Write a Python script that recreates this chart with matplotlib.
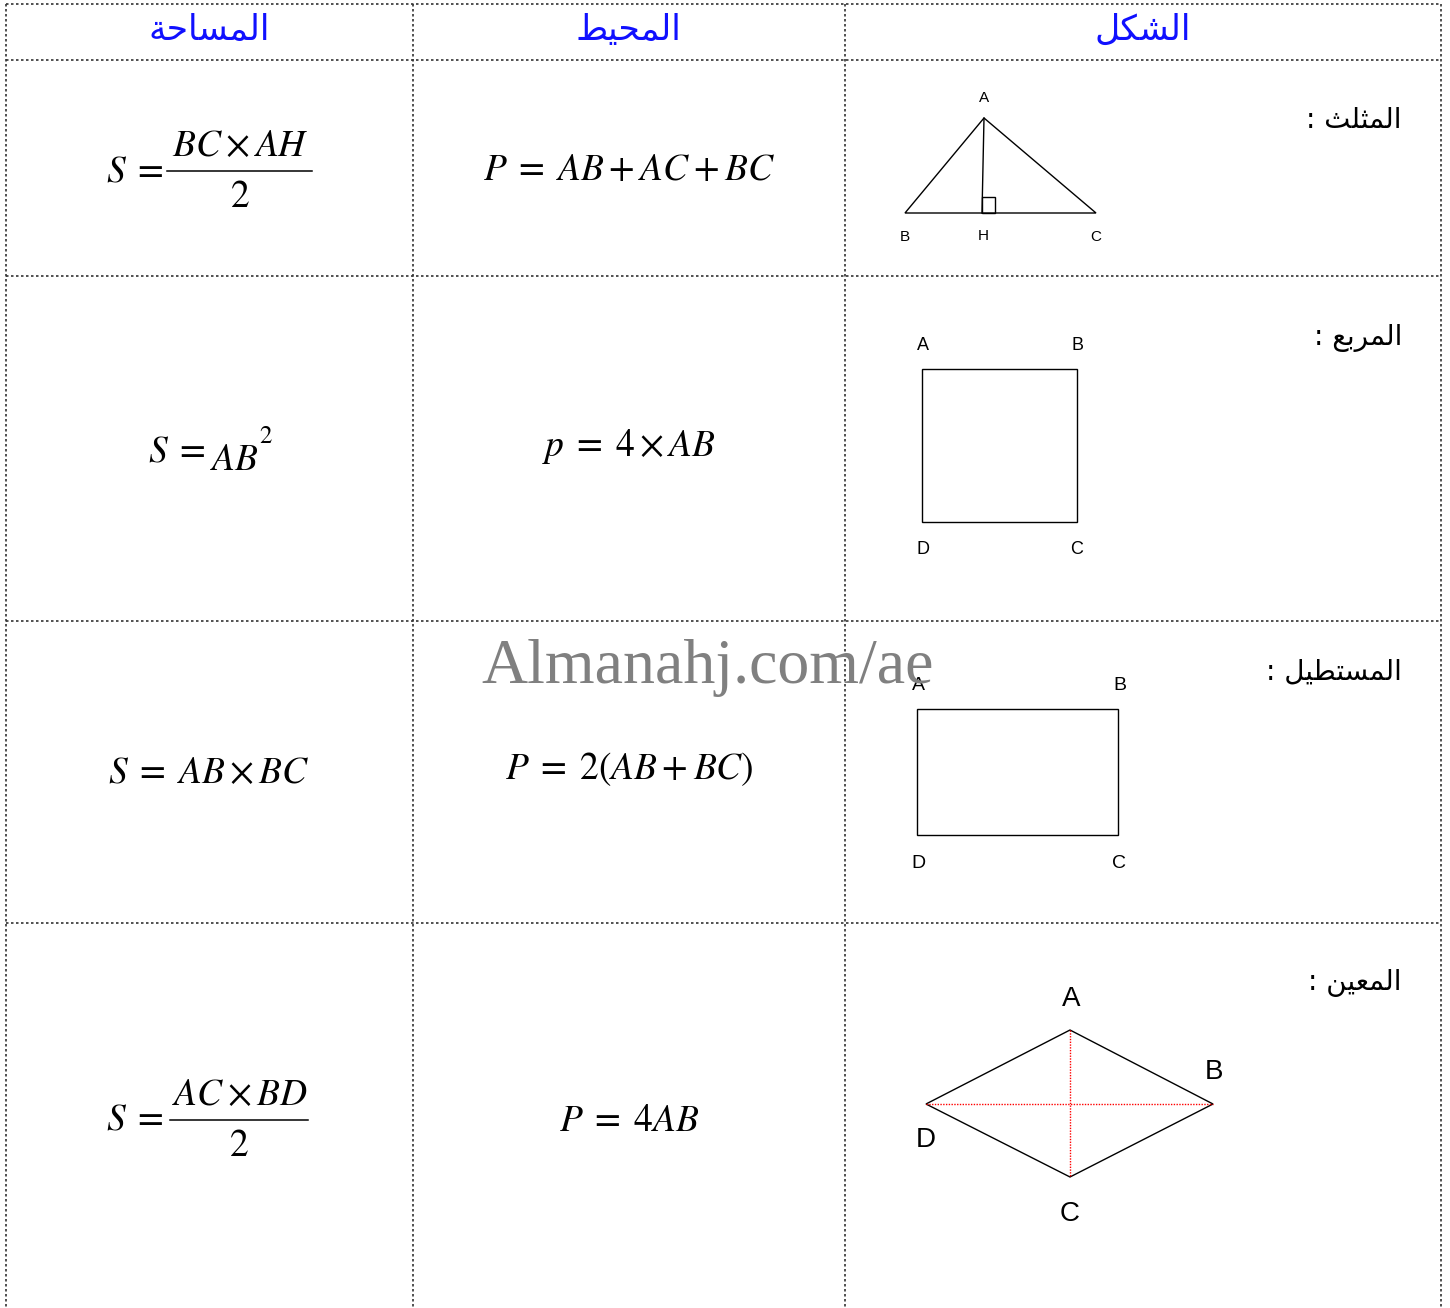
import matplotlib
matplotlib.use('Agg')
import matplotlib.pyplot as plt
from matplotlib.patches import Polygon, Rectangle

plt.rcParams['mathtext.fontset'] = 'stix'

# table layout (pixel grid of the original sheet)
col_edges = [6, 413, 845, 1441]
row_edges = [4, 60, 276, 621, 923]

headers = ['المساحة', 'المحيط', 'الشكل']
shape_names = ['المثلث :', 'المربع :', 'المستطيل :', 'المعين :']

# area formulas: left side, numerator, denominator (None = no fraction)
area_lhs = [r'$S\;=$', r'$S\;=$', r'$S\;=\;AB\times BC$', r'$S\;=$']
area_num = [r'$BC\times AH$', None, None, r'$AC\times BD$']
area_den = [r'$2$', None, None, r'$2$']
square_area = (r'$AB$', r'$2$')
perim_formulas = [r'$P\;=\;AB+AC+BC$', r'$p\;=\;4\times AB$',
                  r'$P\;=\;2(AB+BC)$', r'$P\;=\;4AB$']

# figure vertices
tri_pts = {'A': (984, 118), 'B': (905, 213), 'C': (1096, 213), 'H': (982, 213)}
square_pts = {'A': (922, 369), 'B': (1077, 369), 'C': (1077, 522), 'D': (922, 522)}
rect_pts = {'A': (917, 709), 'B': (1118, 709), 'C': (1118, 835), 'D': (917, 835)}
rhombus_pts = {'A': (1070, 1030), 'B': (1213, 1104), 'C': (1070, 1177), 'D': (926, 1104)}

# arabic presentation forms: isolated, final, initial, medial
FORMS = {
    'ا': ('\uFE8D', '\uFE8E', None, None),
    'ل': ('\uFEDD', '\uFEDE', '\uFEDF', '\uFEE0'),
    'م': ('\uFEE1', '\uFEE2', '\uFEE3', '\uFEE4'),
    'س': ('\uFEB1', '\uFEB2', '\uFEB3', '\uFEB4'),
    'ح': ('\uFEA1', '\uFEA2', '\uFEA3', '\uFEA4'),
    'ة': ('\uFE93', '\uFE94', None, None),
    'ي': ('\uFEF1', '\uFEF2', '\uFEF3', '\uFEF4'),
    'ط': ('\uFEC1', '\uFEC2', '\uFEC3', '\uFEC4'),
    'ش': ('\uFEB5', '\uFEB6', '\uFEB7', '\uFEB8'),
    'ك': ('\uFED9', '\uFEDA', '\uFEDB', '\uFEDC'),
    'ث': ('\uFE99', '\uFE9A', '\uFE9B', '\uFE9C'),
    'ر': ('\uFEAD', '\uFEAE', None, None),
    'ب': ('\uFE8F', '\uFE90', '\uFE91', '\uFE92'),
    'ع': ('\uFEC9', '\uFECA', '\uFECB', '\uFECC'),
    'ت': ('\uFE95', '\uFE96', '\uFE97', '\uFE98'),
    'ن': ('\uFEE5', '\uFEE6', '\uFEE7', '\uFEE8'),
}


def joins_left(ch):
    return ch in FORMS and FORMS[ch][2] is not None


def shape(text):
    # pick the joined form of each letter, then reverse for left-to-right drawing
    out = []
    for i, ch in enumerate(text):
        if ch not in FORMS:
            out.append(ch)
            continue
        prev = text[i - 1] if i > 0 else ''
        nxt = text[i + 1] if i + 1 < len(text) else ''
        p = joins_left(prev)
        n = joins_left(ch) and nxt in FORMS
        iso, fin, ini, med = FORMS[ch]
        if p and n:
            out.append(med)
        elif p:
            out.append(fin)
        elif n:
            out.append(ini)
        else:
            out.append(iso)
    return ''.join(reversed(out))


fig = plt.figure(figsize=(14.5, 13.08), dpi=100)
ax = fig.add_axes([0, 0, 1, 1])
ax.set_xlim(0, 1450)
ax.set_ylim(1308, 0)
ax.axis('off')

line_kw = dict(color='#333333', lw=1.2, ls=(0, (1.5, 1.5)))
for x in col_edges:
    ax.plot([x, x], [row_edges[0], 1308], **line_kw)
for y in row_edges:
    ax.plot([col_edges[0], col_edges[-1]], [y, y], **line_kw)

# headers
header_x = [209, 628, 1143]
for hx, h in zip(header_x, headers):
    ax.text(hx, 30, shape(h), color='#1010ff', fontsize=25, family='DejaVu Sans',
            ha='center', va='center')

# row names
name_y = [120, 338, 672, 983]
for ny, nm in zip(name_y, shape_names):
    ax.text(1402, ny, shape(nm), color='black', fontsize=20, family='DejaVu Sans',
            ha='right', va='center')

# area column
bar_y = [171, None, None, 1120]
bar_x = [(167, 312), None, None, (170, 308)]
for i in range(4):
    if area_num[i] is not None:
        ax.text(106, bar_y[i], area_lhs[i], fontsize=27, ha='left', va='center')
        x0, x1 = bar_x[i]
        ax.plot([x0, x1], [bar_y[i], bar_y[i]], color='black', lw=1.1)
        ax.text((x0 + x1) / 2 + 1, bar_y[i] - 25, area_num[i], fontsize=27,
                ha='center', va='center')
        ax.text((x0 + x1) / 2, bar_y[i] + 26, area_den[i], fontsize=27,
                ha='center', va='center')
ax.text(148, 452, area_lhs[1], fontsize=27, ha='left', va='center')
ax.text(210, 460, square_area[0], fontsize=27, ha='left', va='center')
ax.text(259, 436, square_area[1], fontsize=18, ha='left', va='center')
ax.text(209, 773, area_lhs[2], fontsize=27, ha='center', va='center')

# perimeter column
perim_y = [170, 446, 769, 1121]
for py, f in zip(perim_y, perim_formulas):
    ax.text(629, py, f, fontsize=27, ha='center', va='center')

lab_kw = dict(family='Liberation Sans', ha='center', va='center', color='black')

# triangle
t = tri_pts
ax.add_patch(Polygon([t['A'], t['B'], t['C']], closed=True, fill=False, ec='black', lw=1))
ax.plot([t['A'][0], t['H'][0]], [t['A'][1], t['H'][1]], color='black', lw=1)
ax.add_patch(Rectangle((t['H'][0], t['H'][1] - 16), 13, 16, fill=False, ec='black', lw=1))
ax.text(t['A'][0], 98, 'A', fontsize=11, **lab_kw)
ax.text(t['B'][0], 237, 'B', fontsize=11, **lab_kw)
ax.text(t['H'][0] + 1, 236, 'H', fontsize=11, **lab_kw)
ax.text(t['C'][0], 237, 'C', fontsize=11, **lab_kw)

# square
s = square_pts
ax.add_patch(Polygon([s['A'], s['B'], s['C'], s['D']], closed=True, fill=False, ec='black', lw=1))
ax.text(s['A'][0] + 1, 346, 'A', fontsize=13, **lab_kw)
ax.text(s['B'][0] + 1, 346, 'B', fontsize=13, **lab_kw)
ax.text(s['D'][0] + 1, 549, 'D', fontsize=13, **lab_kw)
ax.text(s['C'][0], 549, 'C', fontsize=13, **lab_kw)

# rectangle
r = rect_pts
ax.add_patch(Polygon([r['A'], r['B'], r['C'], r['D']], closed=True, fill=False, ec='black', lw=1))
ax.text(r['A'][0] + 1, 686, 'A', fontsize=14, **lab_kw)
ax.text(r['B'][0] + 2, 686, 'B', fontsize=14, **lab_kw)
ax.text(r['D'][0] + 1, 863, 'D', fontsize=14, **lab_kw)
ax.text(r['C'][0] + 1, 863, 'C', fontsize=14, **lab_kw)

# rhombus
h = rhombus_pts
ax.add_patch(Polygon([h['A'], h['B'], h['C'], h['D']], closed=True, fill=False, ec='black', lw=1))
ax.plot([h['A'][0], h['C'][0]], [h['A'][1], h['C'][1]], color='red', lw=1, ls=(0, (1, 1)))
ax.plot([h['D'][0], h['B'][0]], [h['D'][1], h['B'][1]], color='red', lw=1, ls=(0, (1, 1)))
ax.text(h['A'][0] + 1, 999, 'A', fontsize=20, **lab_kw)
ax.text(h['B'][0] + 1, 1072, 'B', fontsize=20, **lab_kw)
ax.text(h['D'][0], 1140, 'D', fontsize=20, **lab_kw)
ax.text(h['C'][0], 1214, 'C', fontsize=20, **lab_kw)

# watermark
ax.text(708, 668, 'Almanahj.com/ae', fontsize=46, family='Liberation Serif',
        color='#808080', ha='center', va='center')

fig.savefig('out.png', dpi=100)
